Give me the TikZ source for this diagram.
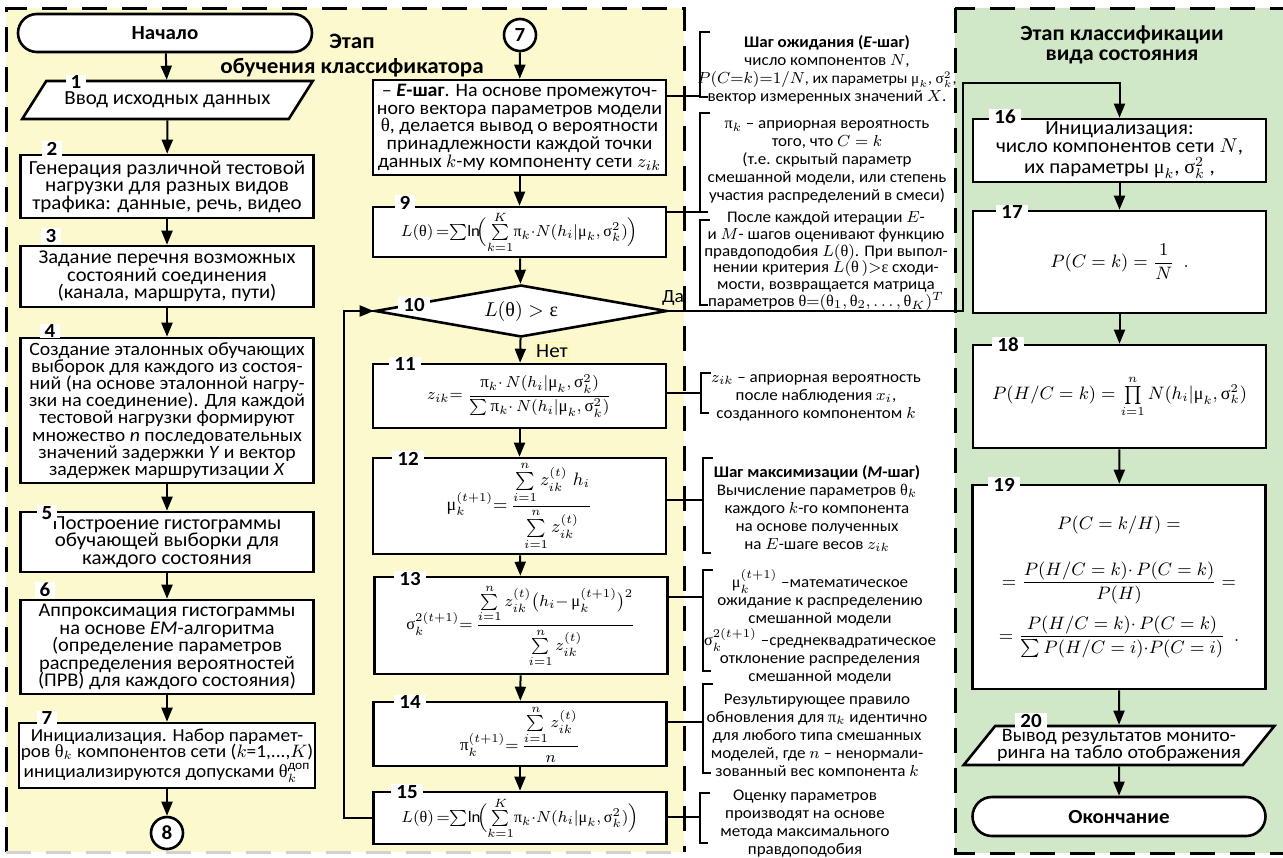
\documentclass[tikz,border=0pt]{standalone}
\usepackage{amsmath}
\usepackage{fontspec}
\setmainfont{Carlito}[FakeStretch=1.05]
\newfontfamily\grk{Liberation Serif}
\usetikzlibrary{arrows.meta}
\usetikzlibrary{shapes.geometric}

\definecolor{zheltyj}{RGB}{253,249,206}
\definecolor{zelenyj}{RGB}{208,232,199}

\newcommand{\umu}{\text{\grk μ}}
\newcommand{\usig}{\text{\grk σ}}
\newcommand{\upii}{\text{\grk π}}
\newcommand{\uth}{\text{\grk θ}}
\newcommand{\ueps}{\text{\grk ε}}

\tikzset{
	blok/.style={draw, line width=1.3pt, fill=white, align=center, inner sep=1pt,
		minimum width=146.5pt, font=\fontsize{10}{8.8}\selectfont},
	formula/.style={blok, font=\fontsize{8.5}{10}\selectfont},
	nomer/.style={fill=white, inner xsep=2.5pt, inner ysep=0.5pt, font=\bfseries\fontsize{10}{10}\selectfont},
	krug/.style={draw, circle, line width=1.3pt, fill=white, minimum size=16pt, inner sep=0pt, font=\bfseries\fontsize{10}{10}\selectfont},
	strelka/.style={line width=1pt, ->},
	skobka/.style={line width=0.8pt},
	primech/.style={align=center, inner sep=0pt, font=\fontsize{8.1}{9}\selectfont},
	zagolovok/.style={align=center, inner sep=0pt, font=\bfseries\fontsize{11}{12.5}\selectfont},
	ramka/.style={line width=1.5pt, dash pattern=on 12.5pt off 7.5pt},
}

\begin{document}
\begin{tikzpicture}[x=0.5pt,y=-0.5pt,>={Triangle[length=7pt,width=5.5pt]}]
	\useasboundingbox (0,0) rectangle (1283,857);
	% fon etapov
	\fill[zheltyj] (6,8) rectangle (684,852);
	\fill[zelenyj] (955,8) rectangle (1283,853);
	\draw[ramka] (6,852) -- (6,8) -- (684,8) -- (684,852);
	\draw[ramka, gray!35] (6,852) -- (684,852);
	\draw[ramka] (955,8) rectangle (1300,853);

	\node[zagolovok] (zag1) at (352,56) {Этап\\обучения классификатора};
	\node[zagolovok, font=\bfseries\fontsize{10.8}{10}\selectfont] (zag2) at (1122,45) {Этап классификации\\вида состояния};

	% levyj stolbec
	\node[blok, rounded corners=9.5pt, minimum width=147pt, minimum height=19pt] (nach) at (165,33) {\textbf{Начало}};
	\node[blok, trapezium, trapezium left angle=44, trapezium right angle=136, trapezium stretches=true,
		minimum width=145.5pt, minimum height=19pt] (b1) at (167.5,100) {Ввод исходных данных};
	\node[blok, minimum height=31.5pt] (b2) at (167,186.5) {Генерация различной тестовой\\нагрузки для разных видов\\трафика: данные, речь, видео};
	\node[blok, minimum height=30.5pt, font=\fontsize{9.8}{8.8}\selectfont] (b3) at (167,276.5) {Задание перечня возможных\\состояний соединения\\(канала, маршрута, пути)};
	\node[blok, minimum height=72.5pt, font=\fontsize{9.4}{8.6}\selectfont] (b4) at (167,410.5) {Создание эталонных обучающих\\выборок для каждого из состоя-\\ний (на основе эталонной нагру-\\зки на соединение). Для каждой\\тестовой нагрузки формируют\\множество \textit{n} последовательных\\значений задержки \textit{Y} и вектор\\задержек маршрутизации \textit{X}};
	\node[blok, minimum height=30pt] (b5) at (167,542) {Построение гистограммы\\обучающей выборки для\\каждого состояния};
	\node[blok, minimum height=47pt, font=\fontsize{9.7}{8.8}\selectfont] (b6) at (167,647) {Аппроксимация гистограммы\\на основе \textit{EM}-алгоритма\\(определение параметров\\распределения вероятностей\\(ПРВ) для каждого состояния)};
	\node[blok, minimum height=32.5pt, font=\fontsize{9.2}{8.4}\selectfont] (b7) at (167,755.5) {Инициализация. Набор парамет-\\ров $\uth_k$ компонентов сети ($k$=1,...,$K$)\\инициализируются допусками $\uth_k^{\text{доп}}$};
	\node[krug] (c8) at (167,833) {8};

	\draw[strelka] (nach) -- (b1);
	\draw[strelka] (b1) -- (b2);
	\draw[strelka] (b2) -- (b3);
	\draw[strelka] (b3) -- (b4);
	\draw[strelka] (b4) -- (b5);
	\draw[strelka] (b5) -- (b6);
	\draw[strelka] (b6) -- (b7);
	\draw[strelka] (b7) -- (c8);

	% srednij stolbec
	\node[krug] (c7) at (520,35) {7};
	\node[blok, minimum height=47.5pt, font=\fontsize{9.5}{8.8}\selectfont] (b8) at (519.5,127.5) {– \textbf{\textit{E}-шаг}. На основе промежуточ-\\ного вектора параметров модели\\{\grk θ}, делается вывод о вероятности\\принадлежности каждой точки\\данных $k$-му компоненту сети $z_{ik}$};
	\node[formula, minimum height=25pt, font=\fontsize{8}{10}\selectfont] (b9) at (519.5,232) {$L(\uth)\,{=}\!\sum\!\ln\!\Bigl(\sum\limits_{k=1}^{K}\!\upii_k{\cdot}N(h_i|\umu_k,\usig_k^2)\Bigr)$};
	\node[draw, diamond, aspect=5, line width=1.3pt, fill=white, inner sep=0pt, minimum width=146pt, minimum height=26pt,
		font=\fontsize{10}{10}\selectfont] (d10) at (521,311) {$L(\uth) > \ueps$};
	\node[formula, minimum height=32pt] (b11) at (519.5,396) {$z_{ik}{=}\;\dfrac{\upii_k{\cdot}\,N(h_i|\umu_k,\usig_k^2)}{\sum\upii_k{\cdot}\,N(h_i|\umu_k,\usig_k^2)}$};
	\node[formula, minimum height=48pt, font=\fontsize{9}{10}\selectfont] (b12) at (519.5,506) {$\umu_k^{(t+1)}{=}\,\dfrac{\sum\limits_{i=1}^{n} z_{ik}^{(t)}\; h_i}{\sum\limits_{i=1}^{n} z_{ik}^{(t)}}$};
	\node[formula, minimum height=48.5pt, font=\fontsize{8.2}{10}\selectfont] (b13) at (521,625.5) {$\usig_k^{2(t+1)}{=}\,\dfrac{\sum\limits_{i=1}^{n} z_{ik}^{(t)}\bigl(h_i{-}\,\umu_k^{(t+1)}\bigr)^2}{\sum\limits_{i=1}^{n} z_{ik}^{(t)}}$};
	\node[formula, minimum height=32pt] (b14) at (520,734) {$\upii_k^{(t+1)}{=}\,\dfrac{\sum\limits_{i=1}^{n} z_{ik}^{(t)}}{n}$};
	\node[formula, minimum height=26pt, font=\fontsize{8}{10}\selectfont] (b15) at (520,818) {$L(\uth)\,{=}\!\sum\!\ln\!\Bigl(\sum\limits_{k=1}^{K}\!\upii_k{\cdot}N(h_i|\umu_k,\usig_k^2)\Bigr)$};

	\draw[strelka] (c7) -- (b8);
	\draw[strelka] (b8) -- (b9);
	\draw[strelka] (b9) -- (d10);
	\draw[strelka] (d10) -- (b11);
	\draw[strelka] (b11) -- (b12);
	\draw[strelka] (b12) -- (b13);
	\draw[strelka] (b13) -- (b14);
	\draw[strelka] (b14) -- (b15);
	\coordinate (povorot) at (344,818);
	\draw[strelka] (b15.west) -- (povorot) |- (d10.west);
	\node[fill=zheltyj, draw=yellow!40, inner sep=1pt, font=\fontsize{10}{10}\selectfont] (net) at (552,351) {Нет};
	\node[inner sep=0pt, font=\fontsize{9.3}{10}\selectfont] (da) at (673,298) {Да};

	% pravyj stolbec
	\node[blok, minimum height=31.5pt] (b16) at (1119.5,150.5) {Инициализация:\\число компонентов сети $N$,\\их параметры $\umu_k$, $\usig_k^2$ ,};
	\node[formula, minimum height=51pt, font=\fontsize{9.5}{10}\selectfont] (b17) at (1119.5,262) {$P(C = k) = \dfrac{1}{N}\ \ .$};
	\node[formula, minimum height=51.5pt, font=\fontsize{9}{10}\selectfont] (b18) at (1119.5,396.5) {$P(H/C = k) = \prod\limits_{i=1}^{n} N(h_i|\umu_k,\usig_k^2)$};
	\node[formula, minimum height=102pt, font=\fontsize{9}{10}\selectfont] (b19) at (1119,587) {$P(C = k/H) =$\\[13pt]
		$= \dfrac{P(H/C = k){\cdot}\,P(C = k)}{P(H)} =$\\[5pt]
		$= \dfrac{P(H/C = k){\cdot}\,P(C = k)}{\sum P(H/C = i){\cdot}P(C = i)}\ \ .$};
	\node[blok, trapezium, trapezium left angle=49, trapezium right angle=131, trapezium stretches=true,
		minimum width=146pt, minimum height=19.5pt, font=\fontsize{9.5}{8.5}\selectfont] (b20) at (1119,745.5) {Вывод результатов монито-\\ринга на табло отображения};
	\node[blok, rounded corners=9.75pt, minimum height=19.5pt] (kon) at (1119,816.5) {\textbf{Окончание}};

	\coordinate (da1) at (963,311);
	\coordinate (da2) at (963,83);
	\draw[strelka] (d10.east) -- (da1) -- (da2) -| (b16.north);
	\draw[strelka] (b16) -- (b17);
	\draw[strelka] (b17) -- (b18);
	\draw[strelka] (b18) -- (b19);
	\draw[strelka] (b19) -- (b20);
	\draw[strelka] (b20) -- (kon);

	% nomera blokov
	\node[nomer] (n1) at (76,82) {1};
	\node[nomer] (n2) at (52,149) {2};
	\node[nomer] (n3) at (51,236) {3};
	\node[nomer] (n4) at (50,331) {4};
	\node[nomer] (n5) at (47,513) {5};
	\node[nomer] (n6) at (45,590) {6};
	\node[nomer] (n7) at (47,718) {7};
	\node[nomer] (n9) at (405,203) {9};
	\node[nomer] (n10) at (414,305) {10};
	\node[nomer] (n11) at (405,364) {11};
	\node[nomer] (n12) at (408,459) {12};
	\node[nomer] (n13) at (410,579) {13};
	\node[nomer] (n14) at (410,702) {14};
	\node[nomer] (n15) at (407,792) {15};
	\node[nomer] (n16) at (1005,117) {16};
	\node[nomer] (n17) at (1012,212) {17};
	\node[nomer] (n18) at (1008,345) {18};
	\node[nomer] (n19) at (1004,485) {19};
	\node[nomer] (n20) at (1031,721) {20};

	% primechanija
	\draw[skobka] (710,32) -- (700,32) -- (700,97) -- (708,97);
	\draw[skobka] (710,113) -- (700,113) -- (700,212) -- (708,212);
	\draw[skobka] (710,220) -- (700,220) -- (700,305) -- (708,305);
	\draw[skobka] (711,373) -- (701,373) -- (701,413) -- (709,413);
	\draw[skobka] (713,458) -- (703,458) -- (703,553) -- (711,553);
	\draw[skobka] (713,570) -- (703,570) -- (703,671) -- (711,671);
	\draw[skobka] (713,684) -- (703,684) -- (703,773) -- (711,773);
	\draw[skobka] (710,793) -- (700,793) -- (700,843) -- (708,843);
	\coordinate (s1) at (700,96);
	\coordinate (s2) at (700,212);
	\coordinate (s4) at (701,393);
	\coordinate (s5) at (703,500);
	\coordinate (s6) at (703,597);
	\coordinate (s7) at (703,722);
	\coordinate (s8) at (700,817);
	\draw[skobka] (b8.east |- s1) -- (s1);
	\draw[skobka] (b9.east |- s2) -- (s2);
	\draw[skobka] (b11.east |- s4) -- (s4);
	\draw[skobka] (b12.east |- s5) -- (s5);
	\draw[skobka] (b13.east |- s6) -- (s6);
	\draw[skobka] (b14.east |- s7) -- (s7);
	\draw[skobka] (b15.east |- s8) -- (s8);

	\node[primech] (a1) at (827,70) {\textbf{Шаг ожидания (\textit{E}-шаг)}\\число компонентов $N$,\\{\fontsize{7.6}{9}\selectfont$P(C{=}k){=}1/N$, их параметры $\umu_k$, $\usig_k^2$,}\\вектор измеренных значений $X$.};
	\node[primech] (a2) at (827,162) {$\upii_k$ – априорная вероятность\\того, что $C = k$\\(т.е. скрытый параметр\\смешанной модели, или степень\\участия распределений в смеси)};
	\node[primech, font=\fontsize{8.1}{8.4}\selectfont] (a3) at (826,261) {После каждой итерации $E$-\\и $M$- шагов оценивают функцию\\правдоподобия $L(\uth)$. При выпол-\\нении критерия $L(\uth\,){>}\ueps$ сходи-\\мости, возвращается матрица\\параметров $\uth{=}(\uth_1,\uth_2,\ldots,\uth_K)^T$};
	\node[primech] (a4) at (816,397.5) {$z_{ik}$ – априорная вероятность\\после наблюдения $x_i$,\\созданного компонентом $k$};
	\node[primech] (a5) at (817,508.5) {\textbf{Шаг максимизации (\textit{M}-шаг)}\\Вычисление параметров $\uth_k$\\каждого $k$-го компонента\\на основе полученных\\на $E$-шаге весов $z_{ik}$};
	\node[primech] (a6) at (820,627) {$\umu_k^{(t+1)}$ –математическое\\ожидание к распределению\\смешанной модели\\$\usig_k^{2(t+1)}$ –среднеквадратическое\\отклонение распределения\\смешанной модели};
	\node[primech] (a7) at (817,735) {Результирующее правило\\обновления для $\upii_k$ идентично\\для любого типа смешанных\\моделей, где $n$ – ненормали-\\зованный вес компонента $k$};
	\node[primech] (a8) at (805,823.5) {Оценку параметров\\производят на основе\\метода максимального\\правдоподобия};
\end{tikzpicture}
\end{document}
